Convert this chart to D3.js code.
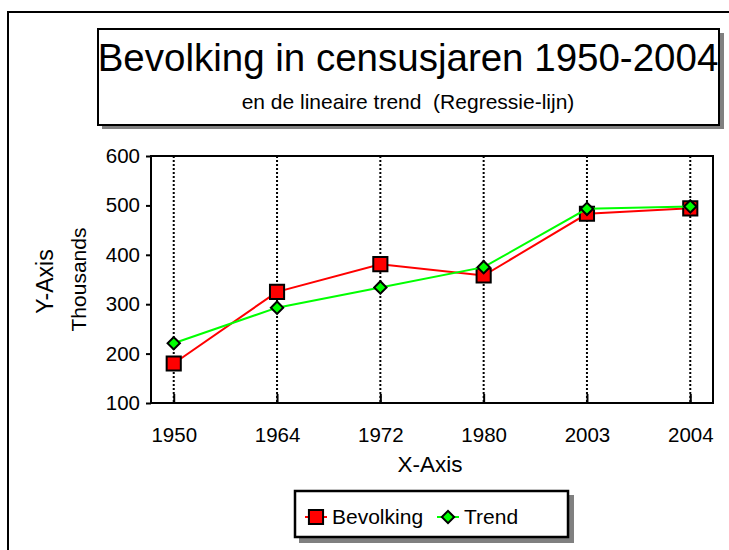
<!DOCTYPE html>
<html>
<head>
<meta charset="utf-8">
<script src="https://cdn.jsdelivr.net/npm/d3@7"></script>
<style>
  body { margin: 0; background: #fff; }
  svg text { font-family: "Liberation Sans", Arial, sans-serif; fill: #000; }
</style>
</head>
<body>
<svg id="chart"></svg>
<script>
const width = 729;
const height = 550;

// data
const years = ['1950', '1964', '1972', '1980', '2003', '2004'];
const bevolking = [180, 325, 381, 358, 483, 494];
const trend = [221, 293, 334, 375, 493, 498];
const yTicks = [100, 200, 300, 400, 500, 600];

const plot = {left: 151, top: 156, right: 713, bottom: 403};

const svg = d3.select('#chart')
  .attr('width', width)
  .attr('height', height);

// outer frame
svg.append('rect')
  .attr('x', 8).attr('y', 12)
  .attr('width', width + 20).attr('height', height + 20)
  .attr('fill', 'none').attr('stroke', '#000').attr('stroke-width', 2);

// title box with shadow
svg.append('rect')
  .attr('x', 102).attr('y', 33).attr('width', 622).attr('height', 96)
  .attr('fill', '#808080');
svg.append('rect')
  .attr('x', 98).attr('y', 29).attr('width', 621).attr('height', 96)
  .attr('fill', '#fff').attr('stroke', '#000').attr('stroke-width', 2);

svg.append('text')
  .attr('x', 408).attr('y', 71)
  .attr('text-anchor', 'middle')
  .style('font-size', '38.5px')
  .text('Bevolking in censusjaren 1950-2004');

svg.append('text')
  .attr('x', 408).attr('y', 109)
  .attr('text-anchor', 'middle')
  .style('font-size', '21px')
  .style('white-space', 'pre')
  .text('en de lineaire trend  (Regressie-lijn)');

// scales
const x = d3.scalePoint()
  .domain(years)
  .range([plot.left, plot.right])
  .padding(0.22);

const y = d3.scaleLinear()
  .domain([100, 600])
  .range([plot.bottom, plot.top]);

// vertical dotted gridlines
svg.append('g')
  .selectAll('line')
  .data(years)
  .join('line')
  .attr('x1', d => x(d)).attr('x2', d => x(d))
  .attr('y1', plot.top).attr('y2', plot.bottom)
  .attr('stroke', '#000').attr('stroke-width', 2)
  .attr('stroke-dasharray', '2,2');

// x axis (ticks inside)
const xAxis = svg.append('g')
  .attr('transform', `translate(0,${plot.bottom})`)
  .call(d3.axisBottom(x).tickSizeInner(-9).tickSizeOuter(0).tickPadding(39));
xAxis.select('.domain').remove();
xAxis.selectAll('.tick line').attr('stroke-width', 2);
xAxis.selectAll('.tick text')
  .style('font-size', '20.5px')
  .attr('dy', '0');

// y axis (ticks outside)
const yAxis = svg.append('g')
  .attr('transform', `translate(${plot.left},0)`)
  .call(d3.axisLeft(y).tickValues(yTicks).tickSize(5).tickPadding(6));
yAxis.select('.domain').remove();
yAxis.selectAll('.tick line').attr('stroke-width', 2);
yAxis.selectAll('.tick text')
  .style('font-size', '20.5px');

// plot border
svg.append('rect')
  .attr('x', plot.left).attr('y', plot.top)
  .attr('width', plot.right - plot.left).attr('height', plot.bottom - plot.top)
  .attr('fill', 'none').attr('stroke', '#000').attr('stroke-width', 2);

// axis titles
svg.append('text')
  .attr('x', (plot.left + plot.right) / 2 - 2).attr('y', 472)
  .attr('text-anchor', 'middle')
  .style('font-size', '22.5px')
  .text('X-Axis');

svg.append('text')
  .attr('transform', `translate(53, ${(plot.top + plot.bottom) / 2 + 2}) rotate(-90)`)
  .attr('text-anchor', 'middle')
  .style('font-size', '23px')
  .text('Y-Axis');

svg.append('text')
  .attr('transform', `translate(86, ${(plot.top + plot.bottom) / 2}) rotate(-90)`)
  .attr('text-anchor', 'middle')
  .style('font-size', '21px')
  .text('Thousands');

// series
const line = d3.line()
  .x((d, i) => x(years[i]))
  .y(d => y(d));

const square = d3.symbol().type(d3.symbolSquare).size(200);
const diamond = d3.symbol().type(d3.symbolSquare).size(76);

svg.append('path')
  .datum(bevolking)
  .attr('d', line)
  .attr('fill', 'none').attr('stroke', '#ff0000').attr('stroke-width', 2);

svg.append('g')
  .selectAll('path')
  .data(bevolking)
  .join('path')
  .attr('d', square)
  .attr('transform', (d, i) => `translate(${x(years[i])},${y(d)})`)
  .attr('fill', '#ff0000').attr('stroke', '#000').attr('stroke-width', 2);

svg.append('path')
  .datum(trend)
  .attr('d', line)
  .attr('fill', 'none').attr('stroke', '#00ff00').attr('stroke-width', 2);

svg.append('g')
  .selectAll('path')
  .data(trend)
  .join('path')
  .attr('d', diamond)
  .attr('transform', (d, i) => `translate(${x(years[i])},${y(d)}) rotate(45)`)
  .attr('fill', '#00ff00').attr('stroke', '#000').attr('stroke-width', 2);

// legend
const legend = svg.append('g');
legend.append('rect')
  .attr('x', 299).attr('y', 495).attr('width', 275).attr('height', 48)
  .attr('fill', '#808080');
legend.append('rect')
  .attr('x', 295).attr('y', 491).attr('width', 273).attr('height', 46)
  .attr('fill', '#fff').attr('stroke', '#000').attr('stroke-width', 2.5);

const legendItems = [
  {name: 'Bevolking', color: '#ff0000', symbol: square, rot: 0, x: 316},
  {name: 'Trend', color: '#00ff00', symbol: diamond, rot: 45, x: 448}
];

const item = legend.selectAll('g.item')
  .data(legendItems)
  .join('g')
  .attr('class', 'item')
  .attr('transform', d => `translate(${d.x},517)`);

item.append('line')
  .attr('x1', -11).attr('x2', 11)
  .attr('stroke', d => d.color).attr('stroke-width', 2);
item.append('path')
  .attr('d', d => d.symbol())
  .attr('transform', d => `rotate(${d.rot})`)
  .attr('fill', d => d.color).attr('stroke', '#000').attr('stroke-width', 2);
item.append('text')
  .attr('x', 16).attr('y', 7)
  .style('font-size', '21px')
  .text(d => d.name);
</script>
</body>
</html>
